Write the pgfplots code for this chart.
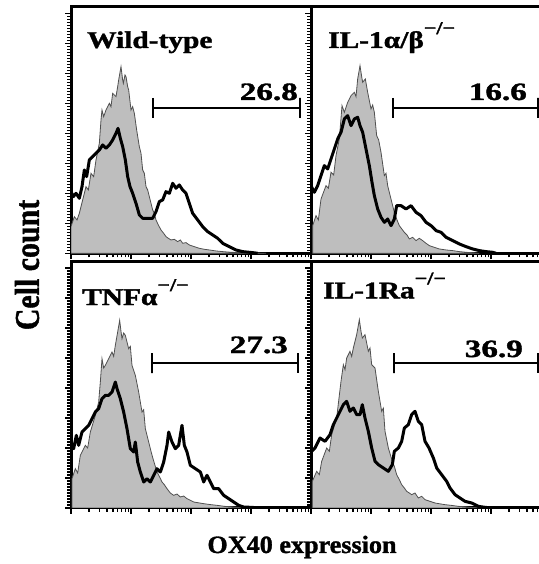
\documentclass[border=0pt]{standalone}
\usepackage{pgfplots}
\pgfplotsset{compat=1.18}
\usepackage{fontspec}
\setmainfont{Liberation Serif}
\newfontfamily\hb{Liberation Serif Bold}[FakeBold=1.3]
\definecolor{histgray}{RGB}{190,190,190}
\definecolor{outgray}{RGB}{80,80,80}
\newcommand\ttl[1]{\scalebox{1.23}[1]{\fontsize{24}{28}\selectfont\hb #1}}
\newcommand\ko{\raisebox{14bp}{\fontsize{18}{18}\selectfont\hb −/−}}
\newcommand\pct[1]{\scalebox{1.33}[1]{\fontsize{25}{30}\selectfont\hb #1}}
\pgfplotsset{
  panel/.style={
    scale only axis, width=240bp, height=246.3bp,
    xmin=0, xmax=720, ymin=0, ymax=739,
    separate axis lines,
    axis line style={line width=3bp, line cap=rect},
    tick align=outside,
    xtick pos=left, ytick pos=left,
    xtick={0,180,360,540,720},
    minor xtick={54,86,108,126,140,152,163,172,234,266,288,306,320,332,343,352,414,446,468,486,500,512,523,532,594,626,648,666,680,692,703,712},
    ytick={0,90,...,720}, minor y tick num=9,
    xticklabels={}, yticklabels={},
    major tick length=6bp, minor tick length=4bp,
    every tick/.style={line width=1.5bp, black},
  },
  ctrl/.style={fill=histgray, draw=outgray, line width=0.8bp},
  stain/.style={black, line width=3bp, line join=round},
  gate/.style={black, line width=1.4bp},
}
\begin{document}
\begin{tikzpicture}[x=1bp,y=1bp]
\useasboundingbox (0,0) rectangle (539,564);
\clip (0,0) rectangle (539,564);

% ---------------- top-left: Wild-type
\begin{axis}[panel, at={(71bp,310.7bp)}, anchor=south west]
\addplot[ctrl] coordinates {(0,80)(10,110)(18,100)(25,120)(35,160)(45,200)(52,190)(60,240)(68,230)(75,280)(85,330)(90,400)(93,430)(98,410)(105,430)(115,450)(120,440)(125,480)(135,470)(140,500)(143,520)(150,560)(155,520)(157,510)(162,535)(165,530)(170,500)(173,490)(180,430)(185,440)(190,420)(197,370)(205,320)(210,300)(215,250)(220,240)(225,200)(230,190)(235,170)(240,150)(245,130)(250,120)(255,100)(262,85)(270,70)(278,60)(285,50)(292,45)(300,40)(310,42)(320,35)(328,40)(335,30)(345,32)(355,25)(370,20)(385,15)(400,12)(415,10)(435,7)(455,5)(480,3)(505,2)(540,1)(585,0)} \closedcycle;
\addplot[stain] coordinates {(0,185)(7,170)(15,180)(25,165)(33,200)(40,250)(47,230)(55,280)(65,290)(75,300)(85,310)(95,325)(105,315)(115,325)(125,340)(135,360)(141,375)(148,345)(155,320)(163,280)(170,230)(177,200)(185,180)(195,150)(205,115)(215,105)(230,105)(245,105)(255,125)(265,155)(275,160)(285,185)(295,180)(305,210)(315,195)(325,205)(335,190)(345,180)(355,150)(365,120)(380,100)(395,80)(410,65)(425,55)(440,45)(455,30)(475,20)(495,10)(515,5)(545,2)(560,0)};
\addplot[gate] coordinates {(246,466)(246,406)(246,436)(687,436)(687,466)(687,406)};
\node[anchor=base west, inner sep=0] at (axis cs:48,616) {\ttl{Wild-type}};
\node[anchor=base east, inner sep=0] at (axis cs:681,460) {\pct{26.8}};
\end{axis}

% ---------------- top-right: IL-1a/b -/-
\begin{axis}[panel, at={(311bp,310.7bp)}, anchor=south west]
\addplot[ctrl] coordinates {(5,83)(15,113)(22,100)(30,163)(45,203)(52,195)(60,243)(68,235)(75,293)(85,343)(93,443)(100,423)(110,453)(120,473)(130,483)(135,470)(140,523)(147,563)(152,530)(155,513)(163,523)(170,483)(180,433)(185,445)(190,423)(197,353)(203,340)(210,303)(220,233)(225,240)(230,203)(240,163)(250,123)(258,100)(265,83)(280,63)(288,55)(295,43)(305,48)(315,38)(325,45)(335,38)(345,30)(355,23)(370,18)(385,13)(405,10)(425,8)(445,5)(465,3)(505,0)} \closedcycle;
\addplot[stain] coordinates {(0,203)(10,183)(20,203)(30,233)(40,263)(50,253)(60,283)(70,313)(80,343)(90,363)(100,403)(110,413)(120,383)(130,403)(140,408)(147,383)(155,363)(165,313)(175,263)(183,213)(190,173)(200,133)(210,108)(220,93)(230,103)(240,83)(250,103)(257,143)(270,143)(285,133)(300,143)(315,123)(330,113)(345,93)(360,83)(375,68)(390,63)(405,48)(425,38)(445,28)(465,20)(485,13)(505,8)(525,5)(545,3)(555,0)};
\addplot[gate] coordinates {(246,466)(246,406)(246,436)(681,436)(681,466)(681,406)};
\node[anchor=base west, inner sep=0] at (axis cs:51,616) {\ttl{IL-1α/β\ko}};
\node[anchor=base east, inner sep=0] at (axis cs:648,460) {\pct{16.6}};
\end{axis}

% ---------------- bottom-left: TNFa -/-
\begin{axis}[panel, at={(71bp,56bp)}, anchor=south west]
\addplot[ctrl] coordinates {(3,88)(13,118)(20,105)(28,158)(43,188)(50,180)(58,228)(73,278)(83,318)(88,378)(93,448)(98,420)(103,428)(113,448)(123,468)(128,455)(133,488)(140,528)(146,563)(150,530)(153,508)(158,525)(163,518)(173,478)(178,485)(183,428)(193,398)(203,348)(213,288)(218,295)(223,238)(233,198)(240,170)(246,148)(258,108)(265,95)(273,78)(280,70)(288,58)(298,45)(308,38)(318,42)(328,33)(338,36)(348,28)(368,18)(398,13)(420,10)(438,8)(460,5)(488,3)(528,0)} \closedcycle;
\addplot[stain] coordinates {(0,198)(8,178)(16,218)(23,188)(33,228)(43,238)(53,248)(63,268)(73,288)(83,298)(93,328)(103,338)(113,338)(123,348)(133,378)(138,358)(148,328)(158,288)(168,238)(178,178)(188,168)(193,198)(200,138)(208,108)(218,78)(228,88)(238,78)(248,98)(258,118)(268,108)(278,138)(288,188)(293,228)(303,198)(313,178)(323,188)(333,248)(340,188)(348,168)(358,128)(373,118)(388,108)(398,78)(408,98)(418,78)(428,58)(443,58)(458,38)(473,28)(488,18)(503,8)(518,3)(540,2)(570,0)};
\addplot[gate] coordinates {(243,465)(243,405)(243,435)(681,435)(681,465)(681,405)};
\node[anchor=base west, inner sep=0] at (axis cs:33,609) {\ttl{TNFα\ko}};
\node[anchor=base east, inner sep=0] at (axis cs:651,465) {\pct{27.3}};
\end{axis}

% ---------------- bottom-right: IL-1Ra -/-
\begin{axis}[panel, at={(311bp,56bp)}, anchor=south west]
\addplot[ctrl] coordinates {(4,80)(17,110)(25,100)(32,140)(47,180)(55,170)(62,220)(77,270)(84,330)(90,380)(97,430)(102,415)(107,450)(117,470)(122,455)(127,480)(137,520)(145,565)(150,530)(154,510)(162,520)(172,470)(177,480)(182,430)(192,420)(202,350)(212,290)(217,300)(222,230)(232,180)(244,140)(250,125)(257,100)(265,85)(272,70)(280,60)(287,50)(295,45)(302,40)(312,45)(322,30)(332,35)(342,25)(357,20)(372,15)(402,10)(420,8)(442,5)(470,3)(502,0)} \closedcycle;
\addplot[stain] coordinates {(2,170)(12,180)(27,210)(42,200)(57,220)(67,250)(77,270)(87,290)(97,310)(107,320)(117,290)(127,300)(137,280)(147,280)(154,310)(162,270)(172,230)(182,180)(192,140)(202,130)(217,120)(232,110)(244,130)(250,170)(262,180)(272,200)(280,240)(292,250)(302,280)(312,290)(322,260)(332,250)(342,200)(354,180)(367,150)(377,120)(392,100)(407,80)(417,60)(432,40)(447,30)(462,20)(482,15)(502,5)(522,2)(542,0)};
\addplot[gate] coordinates {(249,465)(249,405)(249,435)(681,435)(681,465)(681,405)};
\node[anchor=base west, inner sep=0] at (axis cs:36,629) {\ttl{IL-1Ra\ko}};
\node[anchor=base east, inner sep=0] at (axis cs:636,453) {\pct{36.9}};
\end{axis}

% axis titles
\node[anchor=base, inner sep=0] at (302,11) {\scalebox{1.05}[1]{\fontsize{25}{30}\selectfont\hb OX40 expression}};
\node[rotate=90, inner sep=0] at (27,299) {\scalebox{1}[1.16]{\fontsize{30}{36}\selectfont\hb Cell count}};
\end{tikzpicture}
\end{document}
